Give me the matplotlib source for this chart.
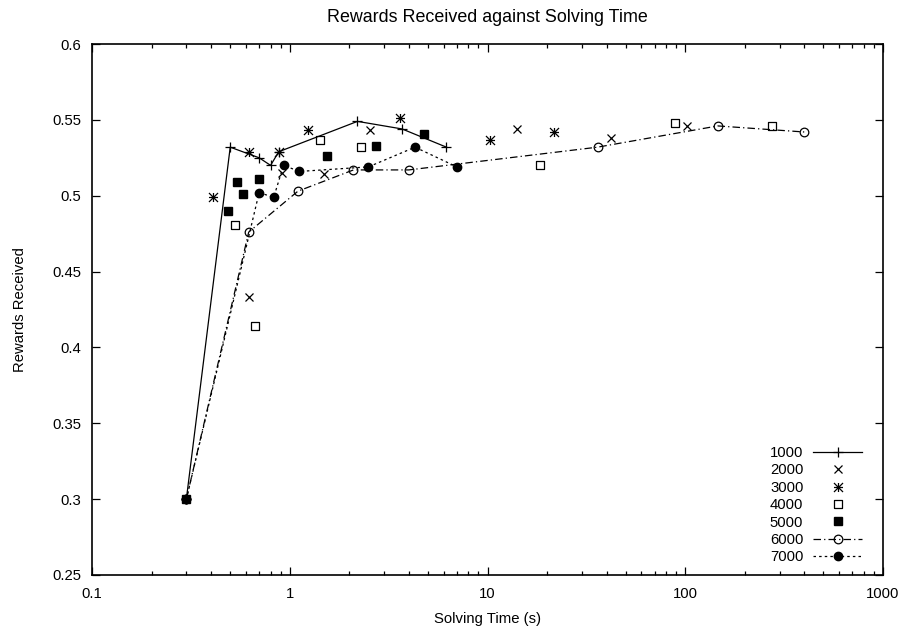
import numpy as np
import matplotlib
matplotlib.use("Agg")
import matplotlib.pyplot as plt
from matplotlib.path import Path
from matplotlib.ticker import FormatStrFormatter, LogLocator, NullFormatter

plt.rcParams['font.family'] = ['Liberation Sans', 'DejaVu Sans']
plt.rcParams['font.size'] = 10.7

# solving time (s) and rewards received, one pair per problem size
t1000 = [0.3, 0.5, 0.7, 0.8, 0.88, 2.2, 3.7, 6.2]
r1000 = [0.3, 0.532, 0.525, 0.52, 0.529, 0.549, 0.544, 0.532]

t2000 = [0.62, 0.91, 1.49, 2.55, 14.1, 42, 102]
r2000 = [0.433, 0.515, 0.514, 0.543, 0.544, 0.538, 0.546]

t3000 = [0.41, 0.62, 0.88, 1.24, 3.6, 10.3, 21.8]
r3000 = [0.499, 0.529, 0.529, 0.543, 0.551, 0.537, 0.542]

t4000 = [0.53, 0.67, 1.43, 2.28, 18.4, 89, 275]
r4000 = [0.481, 0.414, 0.537, 0.532, 0.520, 0.548, 0.546]

t5000 = [0.3, 0.49, 0.54, 0.58, 0.7, 1.54, 2.72, 4.77]
r5000 = [0.3, 0.490, 0.509, 0.501, 0.511, 0.526, 0.533, 0.541]

t6000 = [0.3, 0.62, 1.1, 2.1, 4.0, 36, 146, 400]
r6000 = [0.3, 0.476, 0.503, 0.517, 0.517, 0.532, 0.546, 0.542]

t7000 = [0.3, 0.7, 0.83, 0.93, 1.12, 2.5, 4.3, 7.0]
r7000 = [0.3, 0.502, 0.499, 0.520, 0.516, 0.519, 0.532, 0.519]

x_ticks = [0.1, 1, 10, 100, 1000]
x_labels = ['0.1', '1', '10', '100', '1000']

# gnuplot style point types
M, L = Path.MOVETO, Path.LINETO
star = Path([(-1, 0), (1, 0), (0, -1), (0, 1), (-1, -1), (1, 1), (-1, 1), (1, -1)],
            [M, L, M, L, M, L, M, L])
d = 0.08
box_dot = Path([(-1, -1), (1, -1), (1, 1), (-1, 1), (-1, -1),
                (-d, -d), (d, -d), (d, d), (-d, d), (-d, -d)],
               [M, L, L, L, L, M, L, L, L, L])

fig = plt.figure(figsize=(9.08, 6.35), dpi=100)
ax = fig.add_axes([92 / 908, 60 / 635, 791 / 908, 531 / 635])

lw = 0.9
ax.plot(t1000, r1000, color='k', lw=lw, marker='+', ms=7.5, mew=lw, label='1000')
ax.plot(t2000, r2000, color='k', ls='none', marker='x', ms=6, mew=lw, label='2000')
ax.plot(t3000, r3000, color='k', ls='none', marker=star, ms=6.5, mew=lw, label='3000')
ax.plot(t4000, r4000, color='k', ls='none', marker=box_dot, ms=6, mew=lw, mfc='none', label='4000')
ax.plot(t5000, r5000, color='k', ls='none', marker='s', ms=5.8, label='5000')
ax.plot(t6000, r6000, color='k', lw=lw, dashes=(6, 2.5, 1, 2.5), marker='o', ms=6.2, mew=lw,
        mfc='none', label='6000')
ax.plot(t7000, r7000, color='k', lw=lw, dashes=(2, 2.5), marker='o', ms=6, label='7000')

ax.set_xscale('log')
ax.set_xlim(0.1, 1000)
ax.set_ylim(0.25, 0.6)
ax.set_xticks(x_ticks)
ax.set_xticklabels(x_labels)
ax.xaxis.set_minor_locator(LogLocator(base=10, subs=np.arange(2, 10)))
ax.xaxis.set_minor_formatter(NullFormatter())
ax.set_yticks(np.arange(0.25, 0.601, 0.05))
ax.yaxis.set_major_formatter(FormatStrFormatter('%g'))

ax.tick_params(which='both', direction='in', top=True, right=True, width=0.9)
ax.tick_params(which='major', length=5.8)
ax.tick_params(which='minor', length=3)
ax.tick_params(axis='x', pad=8.5)
ax.tick_params(axis='y', pad=8)
for s in ax.spines.values():
    s.set_linewidth(1.2)

ax.set_xlabel('Solving Time (s)')
ax.set_ylabel('Rewards Received')
ax.xaxis.set_label_coords(0.5, -0.07)
ax.yaxis.set_label_coords(-0.082, 0.5)
ax.set_title('Rewards Received against Solving Time', y=1.0, pad=16)

ax.legend(loc='lower right', bbox_to_anchor=(0.9735, 0.02), frameon=False, markerfirst=False,
          handlelength=3.3, handletextpad=0.65, labelspacing=0.23, borderpad=0, borderaxespad=0)

fig.savefig('out.png', dpi=100)
